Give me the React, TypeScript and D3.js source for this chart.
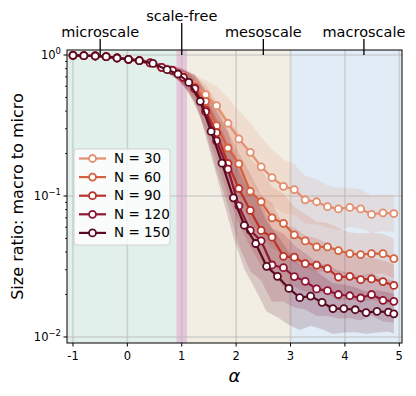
import * as d3 from "d3";

// alpha grid shared by N = 30..120; N = 150 sits half a step off in the middle
const alphaGrid = [-1, -0.8, -0.59, -0.39, -0.19, 0.02, 0.22, 0.42, 0.63, 0.83, 1.03, 1.24, 1.44, 1.64, 1.85, 2.05, 2.26, 2.46, 2.66, 2.87, 3.07, 3.27, 3.48, 3.68, 3.88, 4.09, 4.29, 4.49, 4.7, 4.9];
const alphaN150 = [-1, -0.8, -0.59, -0.39, -0.19, 0.02, 0.22, 0.47, 0.73, 0.93, 1.13, 1.34, 1.54, 1.74, 1.95, 2.15, 2.36, 2.56, 2.76, 2.97, 3.17, 3.37, 3.58, 3.78, 3.98, 4.19, 4.39, 4.59, 4.8, 4.9];

const ratioN30 = [0.994, 0.989, 0.984, 0.973, 0.952, 0.932, 0.911, 0.878, 0.817, 0.778, 0.701, 0.615, 0.523, 0.437, 0.328, 0.254, 0.204, 0.161, 0.135, 0.117, 0.111, 0.094, 0.091, 0.084, 0.081, 0.083, 0.081, 0.074, 0.076, 0.075];
const ratioN60 = [0.994, 0.989, 0.984, 0.973, 0.952, 0.932, 0.911, 0.878, 0.817, 0.778, 0.694, 0.596, 0.469, 0.315, 0.219, 0.169, 0.108, 0.091, 0.07, 0.064, 0.053, 0.048, 0.0435, 0.0435, 0.041, 0.039, 0.0384, 0.039, 0.039, 0.0359];
const ratioN90 = [0.994, 0.989, 0.984, 0.973, 0.952, 0.932, 0.911, 0.878, 0.817, 0.778, 0.694, 0.583, 0.406, 0.281, 0.17, 0.113, 0.079, 0.057, 0.051, 0.0373, 0.0368, 0.0331, 0.0323, 0.0305, 0.0266, 0.0269, 0.0255, 0.0258, 0.0247, 0.0232];
const ratioN120 = [0.994, 0.989, 0.984, 0.973, 0.952, 0.932, 0.911, 0.878, 0.817, 0.778, 0.694, 0.577, 0.396, 0.246, 0.155, 0.085, 0.057, 0.048, 0.0324, 0.031, 0.0268, 0.0248, 0.0219, 0.0213, 0.02, 0.0196, 0.0189, 0.02, 0.0182, 0.0179];
const ratioN150 = [0.994, 0.989, 0.984, 0.973, 0.952, 0.932, 0.911, 0.872, 0.787, 0.733, 0.639, 0.469, 0.287, 0.171, 0.097, 0.062, 0.046, 0.0317, 0.0269, 0.0221, 0.019, 0.0195, 0.0176, 0.0159, 0.0159, 0.0156, 0.0149, 0.0152, 0.015, 0.0146];

// half width of the shaded band, in decades
const spreadN30 = [0.005, 0.005, 0.006, 0.007, 0.008, 0.01, 0.012, 0.016, 0.022, 0.03, 0.045, 0.07, 0.1, 0.14, 0.18, 0.2, 0.21, 0.21, 0.2, 0.19, 0.18, 0.17, 0.16, 0.15, 0.15, 0.14, 0.14, 0.13, 0.13, 0.13];
const spreadN60 = [0.005, 0.005, 0.006, 0.007, 0.008, 0.01, 0.012, 0.016, 0.022, 0.03, 0.05, 0.08, 0.12, 0.17, 0.2, 0.22, 0.23, 0.23, 0.22, 0.21, 0.2, 0.19, 0.18, 0.17, 0.16, 0.15, 0.15, 0.15, 0.14, 0.14];
const spreadN90 = [0.005, 0.005, 0.006, 0.007, 0.008, 0.01, 0.012, 0.016, 0.024, 0.034, 0.055, 0.09, 0.14, 0.19, 0.23, 0.25, 0.26, 0.25, 0.24, 0.22, 0.21, 0.2, 0.19, 0.18, 0.17, 0.16, 0.16, 0.15, 0.15, 0.15];
const spreadN120 = [0.005, 0.005, 0.006, 0.007, 0.008, 0.01, 0.012, 0.018, 0.026, 0.036, 0.06, 0.1, 0.15, 0.21, 0.26, 0.28, 0.29, 0.28, 0.26, 0.24, 0.22, 0.2, 0.19, 0.18, 0.17, 0.16, 0.16, 0.15, 0.15, 0.15];
const spreadN150 = [0.005, 0.005, 0.006, 0.007, 0.008, 0.01, 0.012, 0.018, 0.028, 0.04, 0.07, 0.11, 0.17, 0.23, 0.28, 0.31, 0.33, 0.32, 0.29, 0.26, 0.23, 0.21, 0.19, 0.18, 0.17, 0.16, 0.15, 0.15, 0.14, 0.14];

const seriesNames = ["N = 30", "N = 60", "N = 90", "N = 120", "N = 150"];
const seriesAlpha = [alphaGrid, alphaGrid, alphaGrid, alphaGrid, alphaN150];
const seriesRatio = [ratioN30, ratioN60, ratioN90, ratioN120, ratioN150];
const seriesSpread = [spreadN30, spreadN60, spreadN90, spreadN120, spreadN150];
const seriesColors = ["#e38f70", "#d4623f", "#b93328", "#8e1633", "#5a0b22"];

const xTicks = [-1, 0, 1, 2, 3, 4, 5];
const yTicks = [1, 0.1, 0.01];
const yTickLabels = ["0", "\u22121", "\u22122"];

const regions = [
  { from: -1.11, to: 0.9, color: "#e2f0ec" },
  { from: 0.9, to: 1.1, color: "#e5c6da" },
  { from: 1.1, to: 3, color: "#f2eee4" },
  { from: 3, to: 5.05, color: "#e1ecf6" },
];
const scaleNames = ["microscale", "scale-free", "mesoscale", "macroscale"];
const scaleAt = [-0.5, 1, 2.5, 4.35];
const scaleRaised = [false, true, false, false];

const W = 416;
const H = 396;
const left = 67, right = 402, top = 50, bottom = 343;
const font = "DejaVu Sans, sans-serif";

export default function App() {
  const x = d3.scaleLinear().domain([-1.11, 5.05]).range([left, right]);
  const y = d3.scaleLog().domain([0.00906, 1.085]).range([bottom, top]);

  const minorTicks: number[] = [];
  [0.01, 0.1].forEach((dec) => {
    for (let k = 2; k <= 9; k++) minorTicks.push(dec * k);
  });

  const line = d3
    .line<[number, number]>()
    .x((d) => x(d[0]))
    .y((d) => y(d[1]));
  const band = d3
    .area<[number, number, number]>()
    .x((d) => x(d[0]))
    .y0((d) => y(d[1] / Math.pow(10, d[2])))
    .y1((d) => y(d[1] * Math.pow(10, d[2])));

  return (
    <svg
      width={W}
      height={H}
      style={{ position: "absolute", left: 0, top: 0, background: "#fff" }}
      fontFamily={font}
    >
      <defs>
        <clipPath id="plot">
          <rect x={left} y={top} width={right - left} height={bottom - top} />
        </clipPath>
      </defs>
      <g clipPath="url(#plot)">
        {regions.map((r, i) => (
          <rect key={i} x={x(r.from)} y={top} width={x(r.to) - x(r.from)} height={bottom - top} fill={r.color} />
        ))}
        {xTicks.map((t) => (
          <line key={t} x1={x(t)} x2={x(t)} y1={top} y2={bottom} stroke="#b8b8b8" strokeOpacity={0.55} strokeWidth={1.6} />
        ))}
        {yTicks.map((t) => (
          <line key={t} x1={left} x2={right} y1={y(t)} y2={y(t)} stroke="#b8b8b8" strokeOpacity={0.55} strokeWidth={1.6} />
        ))}
        {seriesRatio.map((vals, s) => {
          const pts = vals.map((v, i) => [seriesAlpha[s][i], v, seriesSpread[s][i]] as [number, number, number]);
          return <path key={s} d={band(pts) || ""} fill={seriesColors[s]} fillOpacity={0.17} />;
        })}
        {seriesRatio.map((vals, s) => {
          const pts = vals.map((v, i) => [seriesAlpha[s][i], v] as [number, number]);
          return (
            <g key={s}>
              <path d={line(pts) || ""} fill="none" stroke={seriesColors[s]} strokeWidth={2.2} />
              {pts.map((p, i) => (
                <circle key={i} cx={x(p[0])} cy={y(p[1])} r={3.5} fill="#fff" stroke={seriesColors[s]} strokeWidth={1.8} />
              ))}
            </g>
          );
        })}
      </g>
      <rect x={left} y={top} width={right - left} height={bottom - top} fill="none" stroke="#000" strokeWidth={1} />

      {/* bottom axis */}
      {xTicks.map((t) => (
        <g key={t}>
          <line x1={x(t)} x2={x(t)} y1={bottom} y2={bottom + 3.5} stroke="#000" />
          <text x={x(t)} y={bottom + 17} textAnchor="middle" fontSize={11.5}>
            {t}
          </text>
        </g>
      ))}
      <text x={(left + right) / 2} y={bottom + 39} textAnchor="middle" fontSize={18} fontStyle="italic">
        α
      </text>

      {/* left axis */}
      {yTicks.map((t, i) => (
        <g key={t}>
          <line x1={left - 3.5} x2={left} y1={y(t)} y2={y(t)} stroke="#000" />
          <text x={left - 6} y={y(t) + 4} textAnchor="end" fontSize={11.5}>
            10
            <tspan dy={-5} fontSize={8.5}>
              {yTickLabels[i]}
            </tspan>
          </text>
        </g>
      ))}
      {minorTicks.map((t) => (
        <line key={t} x1={left - 2} x2={left} y1={y(t)} y2={y(t)} stroke="#000" strokeWidth={0.8} />
      ))}
      <text
        transform={`translate(23,${(top + bottom) / 2}) rotate(-90)`}
        textAnchor="middle"
        fontSize={16}
      >
        Size ratio: macro to micro
      </text>

      {/* scale annotations on top */}
      {scaleNames.map((name, i) => {
        const ty = scaleRaised[i] ? 21 : 37;
        return (
          <g key={name}>
            <line x1={x(scaleAt[i])} x2={x(scaleAt[i])} y1={ty + 2} y2={top + 5} stroke="#000" strokeWidth={1.3} />
            <text x={x(scaleAt[i])} y={ty} textAnchor="middle" fontSize={14.5}>
              {name}
            </text>
          </g>
        );
      })}

      {/* legend */}
      <rect x={74} y={149} width={96} height={96} rx={3} fill="#fff" fillOpacity={0.8} stroke="#d0d0d0" />
      {seriesNames.map((name, i) => {
        const ly = 158.5 + i * 18.6;
        return (
          <g key={name}>
            <line x1={79} x2={106} y1={ly} y2={ly} stroke={seriesColors[i]} strokeWidth={2.2} />
            <circle cx={92.5} cy={ly} r={3.5} fill="#fff" stroke={seriesColors[i]} strokeWidth={1.8} />
            <text x={114} y={ly + 4.5} fontSize={13.5}>
              {name}
            </text>
          </g>
        );
      })}
    </svg>
  );
}
